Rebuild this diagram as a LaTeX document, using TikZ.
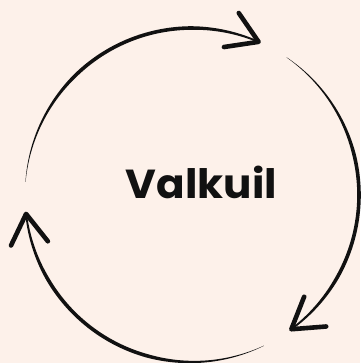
\documentclass[tikz,border=0pt]{standalone}
\usepackage{fontspec}
\setmainfont{Poppins}
\usetikzlibrary{calc}
\definecolor{bg}{HTML}{FDF1EA}
\definecolor{ink}{HTML}{111111}
\tikzset{
  arrowarm/.style={draw=ink, line width=4.6pt, line cap=round, line join=round},
  label/.style={font=\fontsize{40.5}{40}\selectfont\bfseries, text=ink, inner sep=0pt, xscale=1.04}
}
\begin{document}
\begin{tikzpicture}[x=1pt,y=1pt,
  declare function={hw(\f)=1.8*min(1,(\f+0.02)/0.4)*min(1,0.45+(1-\f)*2.5);}]
\fill[bg] (-192,-168) rectangle (168,195);
\useasboundingbox (-192,-168) rectangle (168,195);
\def\R{167}
\foreach \s [count=\k] in {175.5,55.5,-64.5}{
  \pgfmathsetmacro{\e}{\s-109}
  \fill[ink] plot[domain=0:1, samples=90, variable=\f] ({\s-109*\f}:{\R+hw(\f)})
     -- plot[domain=1:0, samples=90, variable=\f] ({\s-109*\f}:{\R-hw(\f)}) -- cycle;
  \coordinate (tip\k) at (\e:\R);
  \coordinate (armA\k) at ($(tip\k)+(\e+90+32:35)$);
  \coordinate (armB\k) at ($(tip\k)+(\e+90-32:35)$);
  \draw[arrowarm] (armA\k) -- (tip\k) -- (armB\k);
}
\node[label] (title) at (9.5,13) {Valkuil};
\end{tikzpicture}
\end{document}
